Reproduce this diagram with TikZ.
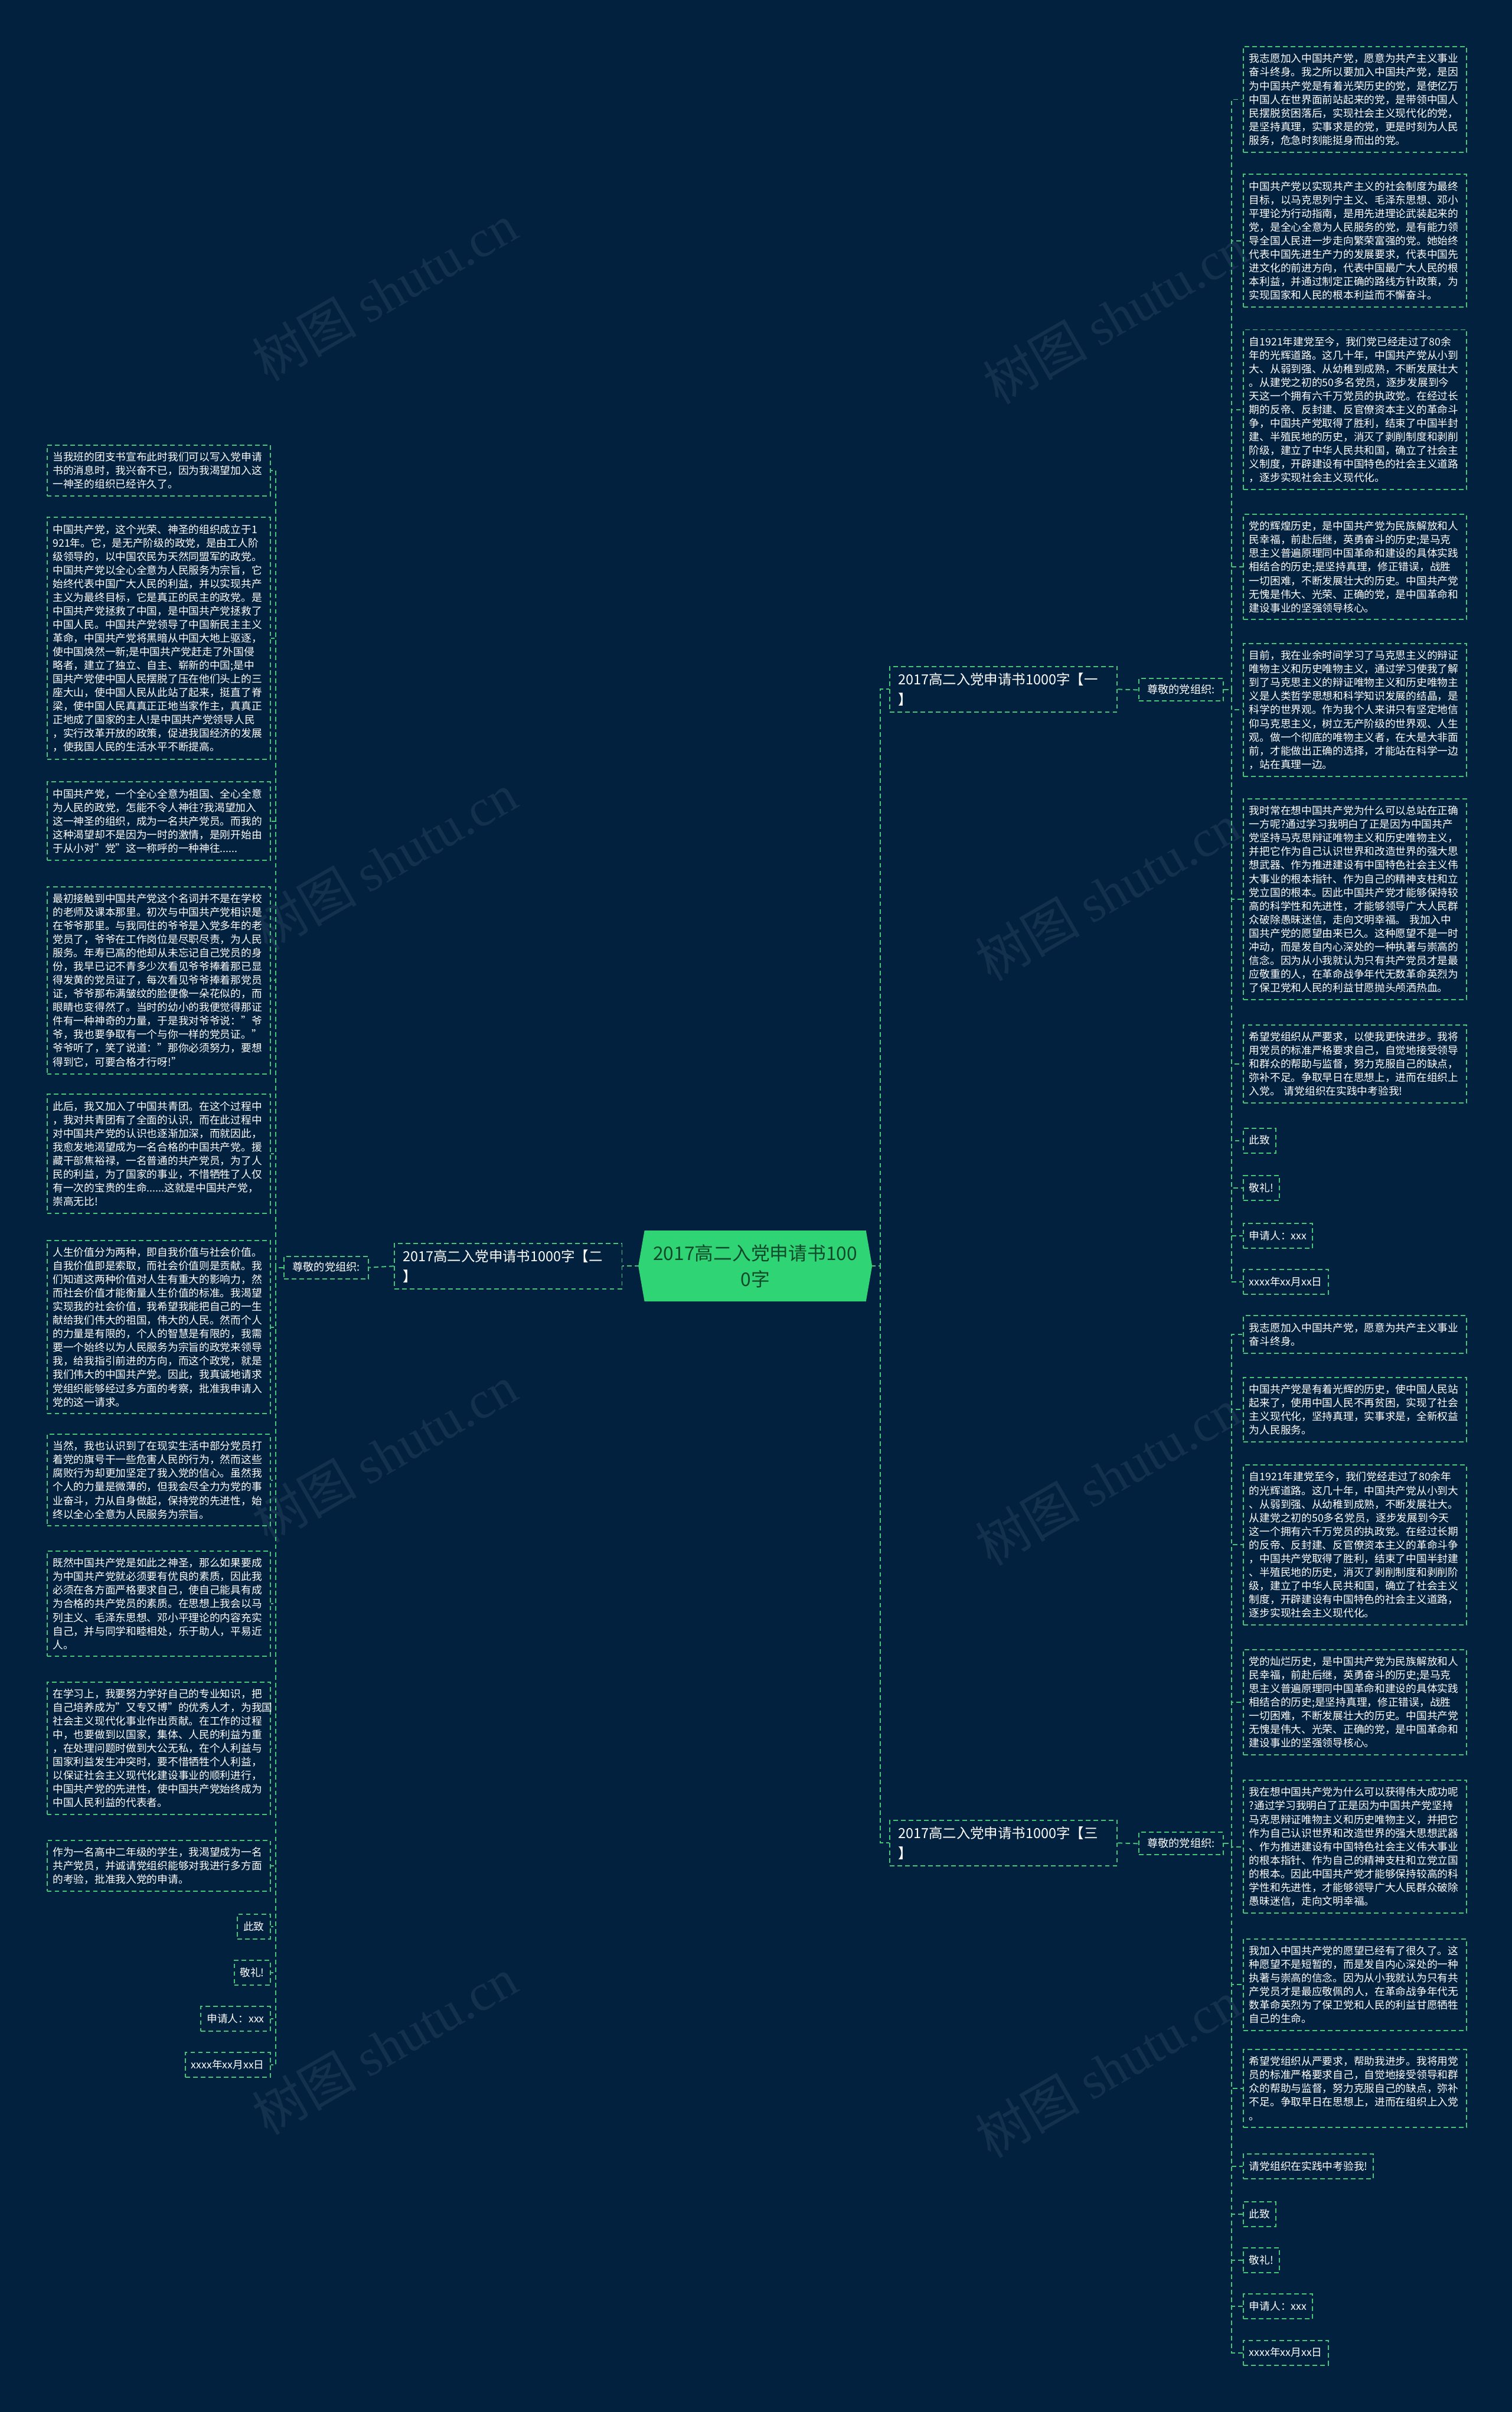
\documentclass[tikz,border=0pt]{standalone}
\usepackage{fontspec}
\setmainfont{Noto Sans CJK SC}
\newfontfamily\wmserif{Liberation Serif}
\usetikzlibrary{calc}
\definecolor{bg}{HTML}{02213F}
\definecolor{dgreen}{HTML}{45C57C}
\definecolor{cfill}{HTML}{2FD574}
\definecolor{ctext}{HTML}{134A2C}
\begin{document}
\begin{tikzpicture}[x=1pt,y=-1pt,
  dashgreen/.style={draw=dgreen, dash pattern=on 3pt off 2pt, line width=0.75pt},
  conn/.style={dashgreen},
  textbox/.style={dashgreen, text=white, font=\fontsize{6.8}{8.85}\selectfont, inner xsep=3.8pt, inner ysep=4.5pt, text width=137.5pt, align=left},
  rbox/.style={textbox, anchor=north west},
  lbox/.style={textbox, anchor=north east},
  smallbox/.style={dashgreen, text=white, font=\fontsize{6.8}{8.85}\selectfont, inner xsep=3.8pt, inner ysep=4.5pt, text height=5.9pt, text depth=1.2pt},
  rsmall/.style={smallbox, anchor=north west},
  lsmall/.style={smallbox, anchor=north east},
  branch/.style={dashgreen, text=white, font=\fontsize{9}{13}\selectfont, inner xsep=5.5pt, inner ysep=4pt, text width=137pt, align=left, anchor=north west},
  greet/.style={dashgreen, text=white, font=\fontsize{7}{8}\selectfont, inner xsep=4pt, inner ysep=4pt, minimum width=55pt, text height=5.6pt, text depth=1pt},
  centernode/.style={text=ctext, font=\fontsize{12.2}{17}\selectfont, align=center, minimum width=150pt, minimum height=46pt, inner sep=0pt},
  wm/.style={rotate=30, text=white, text opacity=0.07, font=\fontsize{34}{34}\selectfont}
]
\fill[bg] (0,0) rectangle (983,1568);
\useasboundingbox (0,0) rectangle (983,1568);

% watermarks
\node[wm] (wm1) at (250,190) {树图 {\wmserif shutu.cn}};
\node[wm] (wm2) at (725,205) {树图 {\wmserif shutu.cn}};
\node[wm] (wm3) at (250,560) {树图 {\wmserif shutu.cn}};
\node[wm] (wm4) at (720,580) {树图 {\wmserif shutu.cn}};
\node[wm] (wm5) at (250,945) {树图 {\wmserif shutu.cn}};
\node[wm] (wm6) at (720,960) {树图 {\wmserif shutu.cn}};
\node[wm] (wm7) at (250,1330) {树图 {\wmserif shutu.cn}};
\node[wm] (wm8) at (720,1345) {树图 {\wmserif shutu.cn}};

% center
\fill[cfill] (419,800) -- (563,800) -- (567,823) -- (563,846) -- (419,846) -- (415,823) -- cycle;
\node[centernode] (center) at (491,823) {2017高二入党申请书100\\0字};

% branches
\node[branch] (b1) at (578,433) {2017高二入党申请书1000字【一\\】};
\node[branch] (b2) at (256,808) {2017高二入党申请书1000字【二\\】};
\node[branch] (b3) at (578,1183) {2017高二入党申请书1000字【三\\】};

\node[greet, anchor=west] (p1) at (740,448.5) {尊敬的党组织:};
\node[greet, anchor=east] (p2) at (240,824) {尊敬的党组织:};
\node[greet, anchor=west] (p3) at (740,1198.5) {尊敬的党组织:};

% right group 1
\node[rbox] (r1) at (808,30) {我志愿加入中国共产党，愿意为共产主义事业\\
奋斗终身。我之所以要加入中国共产党，是因\\
为中国共产党是有着光荣历史的党，是使亿万\\
中国人在世界面前站起来的党，是带领中国人\\
民摆脱贫困落后，实现社会主义现代化的党，\\
是坚持真理，实事求是的党，更是时刻为人民\\
服务，危急时刻能挺身而出的党。};
\node[rbox] (r2) at (808,113) {中国共产党以实现共产主义的社会制度为最终\\
目标，以马克思列宁主义、毛泽东思想、邓小\\
平理论为行动指南，是用先进理论武装起来的\\
党，是全心全意为人民服务的党，是有能力领\\
导全国人民进一步走向繁荣富强的党。她始终\\
代表中国先进生产力的发展要求，代表中国先\\
进文化的前进方向，代表中国最广大人民的根\\
本利益，并通过制定正确的路线方针政策，为\\
实现国家和人民的根本利益而不懈奋斗。};
\node[rbox] (r3) at (808,214) {自1921年建党至今，我们党已经走过了80余\\
年的光辉道路。这几十年，中国共产党从小到\\
大、从弱到强、从幼稚到成熟，不断发展壮大\\
。从建党之初的50多名党员，逐步发展到今\\
天这一个拥有六千万党员的执政党。在经过长\\
期的反帝、反封建、反官僚资本主义的革命斗\\
争，中国共产党取得了胜利，结束了中国半封\\
建、半殖民地的历史，消灭了剥削制度和剥削\\
阶级，建立了中华人民共和国，确立了社会主\\
义制度，开辟建设有中国特色的社会主义道路\\
，逐步实现社会主义现代化。};
\node[rbox] (r4) at (808,334) {党的辉煌历史，是中国共产党为民族解放和人\\
民幸福，前赴后继，英勇奋斗的历史;是马克\\
思主义普遍原理同中国革命和建设的具体实践\\
相结合的历史;是坚持真理，修正错误，战胜\\
一切困难，不断发展壮大的历史。中国共产党\\
无愧是伟大、光荣、正确的党，是中国革命和\\
建设事业的坚强领导核心。};
\node[rbox] (r5) at (808,418) {目前，我在业余时间学习了马克思主义的辩证\\
唯物主义和历史唯物主义，通过学习使我了解\\
到了马克思主义的辩证唯物主义和历史唯物主\\
义是人类哲学思想和科学知识发展的结晶，是\\
科学的世界观。作为我个人来讲只有坚定地信\\
仰马克思主义，树立无产阶级的世界观、人生\\
观。做一个彻底的唯物主义者，在大是大非面\\
前，才能做出正确的选择，才能站在科学一边\\
，站在真理一边。};
\node[rbox] (r6) at (808,519) {我时常在想中国共产党为什么可以总站在正确\\
一方呢?通过学习我明白了正是因为中国共产\\
党坚持马克思辩证唯物主义和历史唯物主义，\\
并把它作为自己认识世界和改造世界的强大思\\
想武器、作为推进建设有中国特色社会主义伟\\
大事业的根本指针、作为自己的精神支柱和立\\
党立国的根本。因此中国共产党才能够保持较\\
高的科学性和先进性，才能够领导广大人民群\\
众破除愚昧迷信，走向文明幸福。 我加入中\\
国共产党的愿望由来已久。这种愿望不是一时\\
冲动，而是发自内心深处的一种执著与崇高的\\
信念。因为从小我就认为只有共产党员才是最\\
应敬重的人，在革命战争年代无数革命英烈为\\
了保卫党和人民的利益甘愿抛头颅洒热血。};
\node[rbox] (r7) at (808,666) {希望党组织从严要求，以使我更快进步。我将\\
用党员的标准严格要求自己，自觉地接受领导\\
和群众的帮助与监督，努力克服自己的缺点，\\
弥补不足。争取早日在思想上，进而在组织上\\
入党。 请党组织在实践中考验我!};
\node[rsmall] (r8) at (808,733) {此致};
\node[rsmall] (r9) at (808,764) {敬礼!};
\node[rsmall] (r10) at (808,795) {申请人：xxx};
\node[rsmall] (r11) at (808,825) {xxxx年xx月xx日};

% right group 3
\node[rbox] (s1) at (808,855) {我志愿加入中国共产党，愿意为共产主义事业\\
奋斗终身。};
\node[rbox] (s2) at (808,895) {中国共产党是有着光辉的历史，使中国人民站\\
起来了，使用中国人民不再贫困，实现了社会\\
主义现代化，坚持真理，实事求是，全新权益\\
为人民服务。};
\node[rbox] (s3) at (808,952) {自1921年建党至今，我们党经走过了80余年\\
的光辉道路。这几十年，中国共产党从小到大\\
、从弱到强、从幼稚到成熟，不断发展壮大。\\
从建党之初的50多名党员，逐步发展到今天\\
这一个拥有六千万党员的执政党。在经过长期\\
的反帝、反封建、反官僚资本主义的革命斗争\\
，中国共产党取得了胜利，结束了中国半封建\\
、半殖民地的历史，消灭了剥削制度和剥削阶\\
级，建立了中华人民共和国，确立了社会主义\\
制度，开辟建设有中国特色的社会主义道路，\\
逐步实现社会主义现代化。};
\node[rbox] (s4) at (808,1072) {党的灿烂历史，是中国共产党为民族解放和人\\
民幸福，前赴后继，英勇奋斗的历史;是马克\\
思主义普遍原理同中国革命和建设的具体实践\\
相结合的历史;是坚持真理，修正错误，战胜\\
一切困难，不断发展壮大的历史。中国共产党\\
无愧是伟大、光荣、正确的党，是中国革命和\\
建设事业的坚强领导核心。};
\node[rbox] (s5) at (808,1157) {我在想中国共产党为什么可以获得伟大成功呢\\
?通过学习我明白了正是因为中国共产党坚持\\
马克思辩证唯物主义和历史唯物主义，并把它\\
作为自己认识世界和改造世界的强大思想武器\\
、作为推进建设有中国特色社会主义伟大事业\\
的根本指针、作为自己的精神支柱和立党立国\\
的根本。因此中国共产党才能够保持较高的科\\
学性和先进性，才能够领导广大人民群众破除\\
愚昧迷信，走向文明幸福。};
\node[rbox] (s6) at (808,1260) {我加入中国共产党的愿望已经有了很久了。这\\
种愿望不是短暂的，而是发自内心深处的一种\\
执著与崇高的信念。因为从小我就认为只有共\\
产党员才是最应敬佩的人，在革命战争年代无\\
数革命英烈为了保卫党和人民的利益甘愿牺牲\\
自己的生命。};
\node[rbox] (s7) at (808,1332) {希望党组织从严要求，帮助我进步。我将用党\\
员的标准严格要求自己，自觉地接受领导和群\\
众的帮助与监督，努力克服自己的缺点，弥补\\
不足。争取早日在思想上，进而在组织上入党\\
。};
\node[rsmall] (s8) at (808,1400) {请党组织在实践中考验我!};
\node[rsmall] (s9) at (808,1431) {此致};
\node[rsmall] (s10) at (808,1461) {敬礼!};
\node[rsmall] (s11) at (808,1491) {申请人：xxx};
\node[rsmall] (s12) at (808,1521) {xxxx年xx月xx日};

% left group
\node[lbox] (l1) at (176,289) {当我班的团支书宣布此时我们可以写入党申请\\
书的消息时，我兴奋不已，因为我渴望加入这\\
一神圣的组织已经许久了。};
\node[lbox] (l2) at (176,336) {中国共产党，这个光荣、神圣的组织成立于1\\
921年。它，是无产阶级的政党，是由工人阶\\
级领导的，以中国农民为天然同盟军的政党。\\
中国共产党以全心全意为人民服务为宗旨，它\\
始终代表中国广大人民的利益，并以实现共产\\
主义为最终目标，它是真正的民主的政党。是\\
中国共产党拯救了中国，是中国共产党拯救了\\
中国人民。中国共产党领导了中国新民主主义\\
革命，中国共产党将黑暗从中国大地上驱逐，\\
使中国焕然一新;是中国共产党赶走了外国侵\\
略者，建立了独立、自主、崭新的中国;是中\\
国共产党使中国人民摆脱了压在他们头上的三\\
座大山，使中国人民从此站了起来，挺直了脊\\
梁，使中国人民真真正正地当家作主，真真正\\
正地成了国家的主人!是中国共产党领导人民\\
，实行改革开放的政策，促进我国经济的发展\\
，使我国人民的生活水平不断提高。};
\node[lbox] (l3) at (176,508) {中国共产党，一个全心全意为祖国、全心全意\\
为人民的政党，怎能不令人神往?我渴望加入\\
这一神圣的组织，成为一名共产党员。而我的\\
这种渴望却不是因为一时的激情，是刚开始由\\
于从小对"党"这一称呼的一种神往......};
\node[lbox] (l4) at (176,576) {最初接触到中国共产党这个名词并不是在学校\\
的老师及课本那里。初次与中国共产党相识是\\
在爷爷那里。与我同住的爷爷是入党多年的老\\
党员了，爷爷在工作岗位是尽职尽责，为人民\\
服务。年寿已高的他却从未忘记自己党员的身\\
份，我早已记不青多少次看见爷爷捧着那已显\\
得发黄的党员证了，每次看见爷爷捧着那党员\\
证，爷爷那布满皱纹的脸便像一朵花似的，而\\
眼睛也变得然了。当时的幼小的我便觉得那证\\
件有一种神奇的力量，于是我对爷爷说："爷\\
爷，我也要争取有一个与你一样的党员证。"\\
爷爷听了，笑了说道："那你必须努力，要想\\
得到它，可要合格才行呀!"};
\node[lbox] (l5) at (176,711) {此后，我又加入了中国共青团。在这个过程中\\
，我对共青团有了全面的认识，而在此过程中\\
对中国共产党的认识也逐渐加深，而就因此，\\
我愈发地渴望成为一名合格的中国共产党。援\\
藏干部焦裕禄，一名普通的共产党员，为了人\\
民的利益，为了国家的事业，不惜牺牲了人仅\\
有一次的宝贵的生命......这就是中国共产党，\\
崇高无比!};
\node[lbox] (l6) at (176,806) {人生价值分为两种，即自我价值与社会价值。\\
自我价值即是索取，而社会价值则是贡献。我\\
们知道这两种价值对人生有重大的影响力，然\\
而社会价值才能衡量人生价值的标准。我渴望\\
实现我的社会价值，我希望我能把自己的一生\\
献给我们伟大的祖国，伟大的人民。然而个人\\
的力量是有限的，个人的智慧是有限的，我需\\
要一个始终以为人民服务为宗旨的政党来领导\\
我，给我指引前进的方向，而这个政党，就是\\
我们伟大的中国共产党。因此，我真诚地请求\\
党组织能够经过多方面的考察，批准我申请入\\
党的这一请求。};
\node[lbox] (l7) at (176,932) {当然，我也认识到了在现实生活中部分党员打\\
着党的旗号干一些危害人民的行为，然而这些\\
腐败行为却更加坚定了我入党的信心。虽然我\\
个人的力量是微薄的，但我会尽全力为党的事\\
业奋斗，力从自身做起，保持党的先进性，始\\
终以全心全意为人民服务为宗旨。};
\node[lbox] (l8) at (176,1008) {既然中国共产党是如此之神圣，那么如果要成\\
为中国共产党就必须要有优良的素质，因此我\\
必须在各方面严格要求自己，使自己能具有成\\
为合格的共产党员的素质。在思想上我会以马\\
列主义、毛泽东思想、邓小平理论的内容充实\\
自己，并与同学和睦相处，乐于助人，平易近\\
人。};
\node[lbox] (l9) at (176,1093) {在学习上，我要努力学好自己的专业知识，把\\
自己培养成为"又专又博"的优秀人才，为我国\\
社会主义现代化事业作出贡献。在工作的过程\\
中，也要做到以国家，集体、人民的利益为重\\
，在处理问题时做到大公无私，在个人利益与\\
国家利益发生冲突时，要不惜牺牲个人利益，\\
以保证社会主义现代化建设事业的顺利进行，\\
中国共产党的先进性，使中国共产党始终成为\\
中国人民利益的代表者。};
\node[lbox] (l10) at (176,1196) {作为一名高中二年级的学生，我渴望成为一名\\
共产党员，并诚请党组织能够对我进行多方面\\
的考验，批准我入党的申请。};
\node[lsmall] (l11) at (176,1244) {此致};
\node[lsmall] (l12) at (176,1274) {敬礼!};
\node[lsmall] (l13) at (176,1304) {申请人：xxx};
\node[lsmall] (l14) at (176,1334) {xxxx年xx月xx日};

% connectors
\draw[conn] (center.east) -- ++(6,0) |- (b1.west);
\draw[conn] (center.east) -- ++(6,0) |- (b3.west);
\draw[conn] (center.west) -- (b2.east |- center.west);
\draw[conn] (b1.east) -- (p1.west);
\draw[conn] (b3.east) -- (p3.west);
\draw[conn] (b2.west) -- (p2.east);
\foreach \n in {r1,r2,r3,r4,r5,r6,r7,r8,r9,r10,r11}
  \draw[conn] (p1.east) -- ++(5,0) |- (\n.west);
\foreach \n in {s1,s2,s3,s4,s5,s6,s7,s8,s9,s10,s11,s12}
  \draw[conn] (p3.east) -- ++(5,0) |- (\n.west);
\foreach \n in {l1,l2,l3,l4,l5,l6,l7,l8,l9,l10,l11,l12,l13,l14}
  \draw[conn] (p2.west) -- ++(-5,0) |- (\n.east);
\end{tikzpicture}
\end{document}
